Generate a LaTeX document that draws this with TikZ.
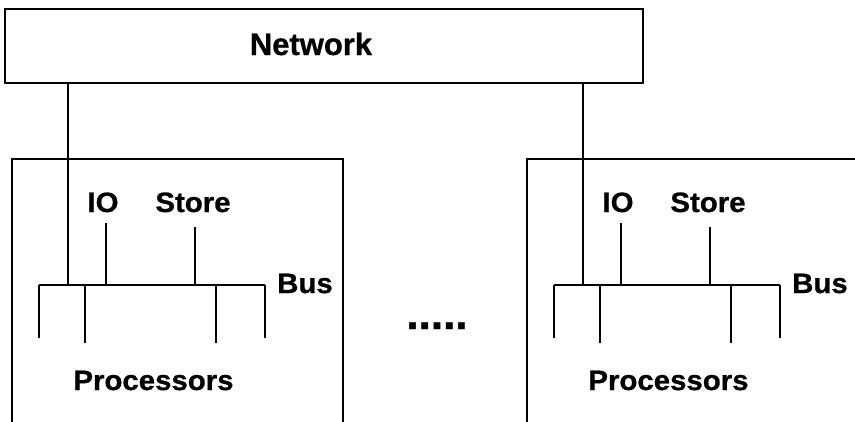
\documentclass[tikz,border=0pt]{standalone}
\usepackage{fontspec}
\setmainfont{Liberation Sans}
\newfontfamily\widefont[FakeStretch=1.05,FakeBold=0.8]{Liberation Sans}
\newfontfamily\heavyfont[FakeBold=0.8]{Liberation Sans}
\usetikzlibrary{positioning}
\tikzset{
  wire/.style={line width=1.6pt},
  buswire/.style={line width=2.8pt},
  lbl/.style={font=\widefont\fontsize{28}{33}\selectfont\bfseries,inner sep=0pt,anchor=base},
}

\begin{document}
\begin{tikzpicture}[x=1pt,y=-1pt]
\clip (0,0) rectangle (855,421);
\fill[white] (0,0) rectangle (855,421);
% network on top
\draw[wire] (5,9) rectangle (643,83);
\coordinate (netbot) at (324,83);
\node[inner sep=0pt,anchor=base,font=\heavyfont\fontsize{31}{36}\selectfont\bfseries] (net) at (311,55) {Network};
% two computing nodes, second one shifted
\foreach \dx/\n in {0/a,515/b}{
\begin{scope}[xshift=\dx pt]
  \draw[wire] (12,440) |- (343,159) -- (343,440);
  \coordinate (bl\n) at (39,285);
  \coordinate (br\n) at (265,285);
  \coordinate (nt\n) at (68,285);
  \draw[buswire] (bl\n) -- (br\n);
  \draw[wire] (nt\n |- netbot) -- (nt\n);
  \node[lbl] (io\n) at (103,212) {IO};
  \node[lbl] (st\n) at (193,212) {Store};
  \node[lbl,anchor=base west] (bus\n) at (277,293) {Bus};
  \node[lbl] (proc\n) at (153.5,390) {Processors};
  \draw[wire] (106,223) -- (106,285);
  \draw[wire] (195,227) -- (195,285);
  \foreach \x/\y in {39/338,85/343,216/343,265/338}
    \draw[wire] (\x,285) -- (\x,\y);
\end{scope}
}
\node[font=\heavyfont\fontsize{44}{50}\selectfont\bfseries,inner sep=0pt,anchor=base] (dots) at (437,329) {.....};
\end{tikzpicture}
\end{document}
